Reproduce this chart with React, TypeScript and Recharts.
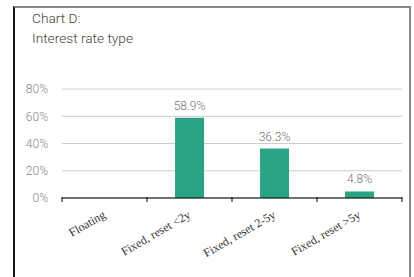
import { BarChart, Bar, XAxis, YAxis, CartesianGrid, LabelList } from "recharts";

const CATEGORIES = ["Floating", "Fixed, reset <2y", "Fixed, reset 2-5y", "Fixed, reset >5y"];
const SHARES = [0, 0.589, 0.363, 0.048];
const Y_TICKS = [0, 0.2, 0.4, 0.6, 0.8];

const data = CATEGORIES.map((name, i) => ({ name, share: SHARES[i] }));

const BAND = 85;

function CategoryTick(props: any) {
    const { x, y, payload, index } = props;
    const left = x - BAND / 2;
    const ty = y + 19;
    return (
        <g>
            <line x1={left} y1={y - 1} x2={left} y2={y + 4} stroke="#000" />
            {index === CATEGORIES.length - 1 && (
                <line x1={left + BAND} y1={y - 1} x2={left + BAND} y2={y + 4} stroke="#000" />
            )}
            <text
                x={x + 2}
                y={ty}
                textAnchor="end"
                transform={`rotate(-30, ${x + 2}, ${ty})`}
                fontFamily="'Liberation Serif', serif"
                fontSize={12}
                fill="#333"
            >
                {payload.value}
            </text>
        </g>
    );
}

export default function App() {
    return (
        <div style={{ position: "absolute", left: 0, top: 0, width: 414, height: 277, background: "#fff", overflow: "hidden" }}>
            <div
                style={{
                    position: "absolute",
                    left: 13,
                    top: 6,
                    width: 394,
                    height: 290,
                    borderLeft: "2px solid #111",
                    borderTop: "2px solid #888",
                    borderRight: "2px solid #888",
                }}
            />
            <div
                style={{
                    position: "absolute",
                    left: 32,
                    top: 8,
                    fontFamily: "Roboto, sans-serif",
                    fontWeight: 300,
                    fontSize: 13.7,
                    lineHeight: "20px",
                    color: "#444",
                }}
            >
                <div>Chart D:</div>
                <div>Interest rate type</div>
            </div>
            <div style={{ position: "absolute", left: 0, top: 0 }}>
                <BarChart
                    width={414}
                    height={277}
                    data={data}
                    margin={{ top: 89, right: 12, left: 0, bottom: 0 }}
                    barCategoryGap="33%"
                >
                    <CartesianGrid vertical={false} stroke="#ccc" />
                    <XAxis
                        dataKey="name"
                        height={79}
                        interval={0}
                        axisLine={{ stroke: "#000" }}
                        tickLine={false}
                        tickSize={0}
                        tickMargin={0}
                        tick={<CategoryTick />}
                    />
                    <YAxis
                        width={62}
                        domain={[0, 0.8]}
                        ticks={Y_TICKS}
                        axisLine={false}
                        tickLine={false}
                        tickFormatter={(v: number) => `${Math.round(v * 100)}%`}
                        tick={{ fontSize: 12, fill: "#888", fontFamily: "Roboto, sans-serif", fontWeight: 300 }}
                        tickMargin={8}
                    />
                    <Bar dataKey="share" fill="#2aa383" isAnimationActive={false}>
                        <LabelList
                            dataKey="share"
                            position="top"
                            offset={8}
                            formatter={(v: any) => (Number(v) > 0 ? `${(Number(v) * 100).toFixed(1)}%` : "")}
                            style={{ fontSize: 12, fill: "#777", fontFamily: "Roboto, sans-serif", fontWeight: 300 }}
                        />
                    </Bar>
                </BarChart>
            </div>
        </div>
    );
}
